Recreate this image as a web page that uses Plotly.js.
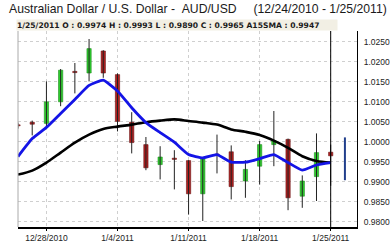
<!DOCTYPE html>
<html>
<head>
<meta charset="utf-8">
<script src="https://cdn.plot.ly/plotly-3.0.1.min.js"></script>
<style>html,body{margin:0;padding:0;background:#fff;}#chart{width:392px;height:243px;}</style>
</head>
<body>
<div id="chart"></div>
<script>
// trading days (index = position on the axis)
var dates = ['12/24/2010','12/27/2010','12/28/2010','12/29/2010','12/30/2010','12/31/2010',
  '1/3/2011','1/4/2011','1/5/2011','1/6/2011','1/7/2011','1/10/2011','1/11/2011','1/12/2011',
  '1/13/2011','1/14/2011','1/17/2011','1/18/2011','1/19/2011','1/20/2011','1/21/2011',
  '1/24/2011','1/25/2011'];
var opens  = [1.0042,1.0049,1.0046,1.0100,1.0176,1.0172,1.0227,1.0168,1.0049,0.9993,0.9943,0.9959,
  0.9953,0.9870,0.9969,0.9975,0.9902,0.9939,0.9993,1.0006,0.9864,0.9913,0.9974];
var highs  = [1.0048,1.0053,1.0151,1.0182,1.0197,1.0257,1.0229,1.0171,1.0074,1.0012,0.9989,0.9979,
  0.9954,0.9962,1.0018,0.9991,0.9954,1.0002,1.0077,1.0008,0.9916,1.0021,0.9993];
var lows   = [1.0033,1.0016,1.0039,1.0089,1.0121,1.0151,1.0160,1.0026,0.9971,0.9929,0.9906,0.9881,
  0.9818,0.9802,0.9921,0.9856,0.9860,0.9893,0.9939,0.9829,0.9835,0.9852,0.9890];
var closes = [1.0040,1.0044,1.0100,1.0179,1.0173,1.0233,1.0172,1.0051,0.9998,0.9935,0.9962,0.9956,
  0.9870,0.9957,0.9967,0.9888,0.9931,0.9993,1.0003,0.9860,0.9902,0.9973,0.9965];
var smaShort = [0.9963,1.0008,1.0036,1.0071,1.0106,1.0141,1.0154,1.0127,1.0085,1.0048,1.0023,0.9999,
  0.9968,0.9960,0.9968,0.9949,0.9949,0.9958,0.9968,0.9948,0.9929,0.9942,0.9948];
var sma15 = [0.9918,0.9928,0.9948,0.9973,0.9998,1.0018,1.0032,1.0038,1.0043,1.0049,1.0053,1.0056,
  1.0052,1.0048,1.0043,1.0031,1.0025,1.0017,1.0003,0.9985,0.9964,0.9952,0.9948];
var projHigh = [1.0011];
var projLow  = [0.9904];
var tickDates = ['12/28/2010','1/4/2011','1/11/2011','1/18/2011','1/25/2011'];
var infoText = '1/25/2011 O : 0.9974 H : 0.9993 L : 0.9890 C : 0.9965 A15SMA : 0.9947';
var titleText = 'Australian Dollar / U.S. Dollar -\u00a0\u00a0AUD/USD\u00a0\u00a0\u00a0\u00a0\u00a0(12/24/2010 - 1/25/2011)';

var idx = dates.map(function(d,i){return i;});
var tickIdx = tickDates.map(function(d){return dates.indexOf(d);});
var lastIdx = idx.length - 1;

// wick segments
var wx = [], wy = [];
idx.forEach(function(i){ wx.push(i,i,null); wy.push(lows[i],highs[i],null); });
// bodies
var bodyBase = [], bodyH = [], bodyCol = [], bodyLine = [];
idx.forEach(function(i){
  var lo = Math.min(opens[i],closes[i]);
  var h = Math.max(Math.abs(closes[i]-opens[i]), 0.00025);
  bodyBase.push(lo); bodyH.push(h);
  var up = closes[i] > opens[i];
  bodyCol.push(up ? '#2ecc2e' : '#b02020');
  bodyLine.push(up ? '#1f8f1f' : '#6a1414');
});

var traces = [
  {type:'scatter', mode:'lines', x:wx, y:wy, line:{color:'#222', width:1}, hoverinfo:'skip', showlegend:false},
  {type:'bar', x:idx, y:bodyH, base:bodyBase, width:0.3,
   marker:{color:bodyCol, line:{color:bodyLine, width:0.6}}, showlegend:false},
  {type:'scatter', mode:'lines', x:idx, y:sma15, line:{color:'#000', width:2.6, shape:'spline', smoothing:0.8}, showlegend:false},
  {type:'scatter', mode:'lines', x:idx, y:smaShort, line:{color:'#1414e6', width:2.8, shape:'spline', smoothing:0.4}, showlegend:false},
  {type:'scatter', mode:'lines', x:[lastIdx+1,lastIdx+1], y:[projLow[0],projHigh[0]], line:{color:'#213f8c', width:2}, showlegend:false}
];

var layout = {
  width:392, height:243,
  margin:{l:18, r:35, t:31, b:16},
  paper_bgcolor:'#fff', plot_bgcolor:'#fff',
  showlegend:false, barmode:'overlay',
  font:{family:'Arial, Liberation Sans, sans-serif', color:'#222'},
  xaxis:{range:[0,23.85], tickvals:tickIdx, ticktext:tickDates, tickfont:{size:8.5, color:'#222'},
    showgrid:true, gridcolor:'#cfcfcf', griddash:'dot', gridwidth:1, zeroline:false,
    showline:true, linecolor:'#000', linewidth:2, ticks:'outside', ticklen:2, tickcolor:'#000'},
  yaxis:{side:'right', range:[0.9787,1.0277], tick0:0.98, dtick:0.005, tickformat:'.4f',
    tickfont:{size:8.5, color:'#222'}, showgrid:true, gridcolor:'#cfcfcf', griddash:'dot', gridwidth:1,
    zeroline:false, showline:true, linecolor:'#000', linewidth:1, ticks:'', ticklabelstandoff:4},
  shapes:[
    {type:'line', xref:'x', yref:'paper', x0:lastIdx, x1:lastIdx, y0:0, y1:1, line:{color:'#000', width:1}},
    {type:'line', xref:'paper', yref:'paper', x0:0, x1:0, y0:0, y1:1, line:{color:'#aaa', width:1}}
  ],
  annotations:[
    {text:titleText, xref:'paper', yref:'paper', x:-11/339, xanchor:'left', y:(227-9)/196, yanchor:'middle',
     showarrow:false, font:{family:'Arial, Liberation Sans, sans-serif', size:12.2, color:'#1a1a1a'}},
    {text:'<b>'+infoText+'</b>', xref:'paper', yref:'paper', x:-2/339, xanchor:'left',
     y:(227-25)/196, yanchor:'middle', showarrow:false, align:'left', width:320, height:10,
     bgcolor:'#f2efe4', borderpad:0, font:{size:7.6, color:'#1a1a1a', family:'DejaVu Sans, Verdana, sans-serif'}}
  ]
};

Plotly.newPlot('chart', traces, layout, {staticPlot:true, displayModeBar:false});
</script>
</body>
</html>
